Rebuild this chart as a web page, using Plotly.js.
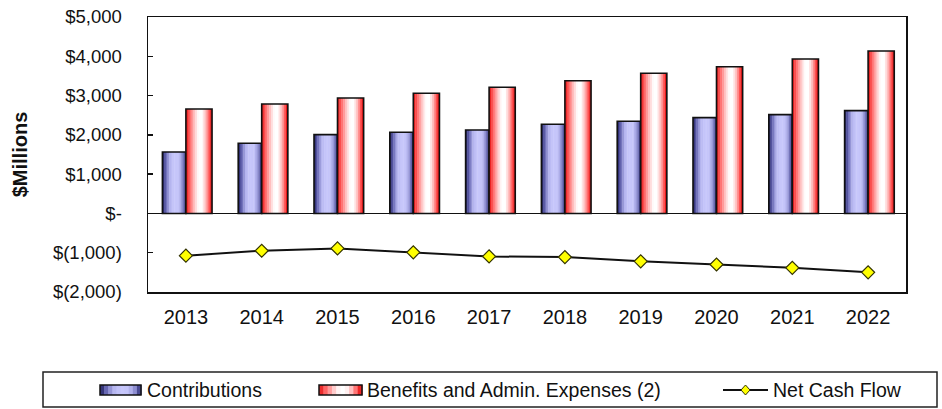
<!DOCTYPE html>
<html>
<head>
<meta charset="utf-8">
<script src="https://cdn.plot.ly/plotly-3.0.1.min.js"></script>
<style>
  html, body { margin: 0; padding: 0; background: #ffffff; }
  #chart { width: 942px; height: 409px; }
</style>
</head>
<body>
<div id="chart"></div>
<script>
// ---- data ----
const years = ['2013', '2014', '2015', '2016', '2017', '2018', '2019', '2020', '2021', '2022'];
const contributions = [1565, 1786, 2005, 2066, 2125, 2270, 2346, 2438, 2514, 2616];
const benefits = [2659, 2786, 2939, 3058, 3211, 3379, 3567, 3735, 3931, 4135];
const netCashFlow = [-1075, -950, -890, -990, -1095, -1112, -1220, -1300, -1385, -1500];
const yTickVals = [5000, 4000, 3000, 2000, 1000, 0, -1000, -2000];
const yTickText = ['$5,000', '$4,000', '$3,000', '$2,000', '$1,000', '$-', '$(1,000)', '$(2,000)'];
const seriesNames = ['Contributions', 'Benefits and Admin. Expenses (2)', 'Net Cash Flow'];

// ---- styles ----
const FONT = 'Liberation Sans, Arial, sans-serif';
const W = 942, H = 409;
const M = { l: 148, r: 36, t: 17, b: 117 };
const PW = W - M.l - M.r, PH = H - M.t - M.b;
const blueStops = [[0, '#1a1a58'], [0.12, '#5a5aa8'], [0.32, '#b4b4ee'], [0.5, '#c8c8fc'], [0.7, '#c2c2f8'], [0.86, '#8a8ace'], [1, '#262670']];
const redStops = [[0, '#e01010'], [0.13, '#ff5a5a'], [0.33, '#ffc4c4'], [0.48, '#ffffff'], [0.62, '#ffffff'], [0.78, '#ffb0b0'], [0.92, '#ff3a3a'], [1, '#d00000']];
const NSTRIP = 14;

function hex2rgb(h) { return [parseInt(h.substr(1, 2), 16), parseInt(h.substr(3, 2), 16), parseInt(h.substr(5, 2), 16)]; }
function grad(stops, t) {
  for (let i = 0; i < stops.length - 1; i++) {
    const [t0, c0] = stops[i], [t1, c1] = stops[i + 1];
    if (t >= t0 && t <= t1) {
      const f = (t - t0) / (t1 - t0), a = hex2rgb(c0), b = hex2rgb(c1);
      return 'rgb(' + a.map((v, k) => Math.round(v + (b[k] - v) * f)).join(',') + ')';
    }
  }
  return stops[stops.length - 1][1];
}

const traces = [];
function gradientBars(values, offset, width, stops) {
  const sw = width / NSTRIP;
  for (let i = 0; i < NSTRIP; i++) {
    traces.push({
      type: 'bar', x: years, y: values,
      offset: offset + i * sw, width: sw * (i < NSTRIP - 1 ? 1.25 : 1),
      marker: { color: grad(stops, (i + 0.5) / NSTRIP), line: { width: 0 } },
      showlegend: false, hoverinfo: 'skip'
    });
  }
  traces.push({
    type: 'bar', x: years, y: values, offset: offset, width: width,
    marker: { color: 'rgba(0,0,0,0)', line: { color: '#111111', width: 1.6 } },
    showlegend: false, hoverinfo: 'x+y'
  });
}
gradientBars(contributions, -0.31, 0.31, blueStops);
gradientBars(benefits, 0.0, 0.345, redStops);
traces.push({
  type: 'scatter', mode: 'lines+markers', x: years, y: netCashFlow, name: seriesNames[2],
  line: { color: '#111111', width: 2 },
  marker: { symbol: 'diamond', size: 10, color: '#ffff00', line: { color: '#333300', width: 1.2 } },
  showlegend: false, cliponaxis: false
});

// ---- custom legend (pixel -> paper helpers) ----
const px = x => (x - M.l) / PW;
const py = y => (M.t + PH - y) / PH;
const shapes = [];
const annotations = [];
shapes.push({ type: 'rect', xref: 'paper', yref: 'paper', x0: px(43), x1: px(937), y0: py(407), y1: py(372),
  line: { color: '#222222', width: 1.5 }, fillcolor: 'rgba(0,0,0,0)' });
function legendSwatch(x0, x1, y0, y1, stops) {
  const n = 10, sw = (x1 - x0) / n;
  for (let i = 0; i < n; i++) {
    shapes.push({ type: 'rect', xref: 'paper', yref: 'paper', x0: px(x0 + i * sw), x1: px(x0 + (i + 1) * sw + 0.6),
      y0: py(y1), y1: py(y0), line: { width: 0 }, fillcolor: grad(stops, (i + 0.5) / n) });
  }
  shapes.push({ type: 'rect', xref: 'paper', yref: 'paper', x0: px(x0), x1: px(x1), y0: py(y1), y1: py(y0),
    line: { color: '#111111', width: 1.5 }, fillcolor: 'rgba(0,0,0,0)' });
}
const LY = 390;
legendSwatch(100, 141, 385, 395, blueStops);
legendSwatch(319, 362, 385, 395, redStops);
shapes.push({ type: 'line', xref: 'paper', yref: 'paper', x0: px(723), x1: px(768), y0: py(LY), y1: py(LY),
  line: { color: '#111111', width: 2 } });
shapes.push({ type: 'path', xref: 'paper', yref: 'paper', xsizemode: 'pixel', ysizemode: 'pixel',
  xanchor: px(745.5), yanchor: py(LY), path: 'M0,-5 L4.5,0 L0,5 L-4.5,0 Z',
  fillcolor: '#ffff00', line: { color: '#333300', width: 1 } });
const legendTextX = [145, 365, 771];
seriesNames.forEach((name, i) => {
  annotations.push({ xref: 'paper', yref: 'paper', x: px(legendTextX[i]), y: py(LY), text: name,
    xanchor: 'left', yanchor: 'middle', showarrow: false, font: { family: FONT, size: 19.5, color: '#111111' } });
});

const layout = {
  width: W, height: H, margin: M,
  paper_bgcolor: '#ffffff', plot_bgcolor: '#ffffff',
  barmode: 'overlay', showlegend: false,
  font: { family: FONT, color: '#111111' },
  xaxis: {
    type: 'category', range: [-0.5, 9.5], showline: true, mirror: true, linecolor: '#111111', linewidth: 1.5,
    ticks: '', showgrid: false, zeroline: false, fixedrange: true,
    tickfont: { family: FONT, size: 20, color: '#111111' }, ticklabelstandoff: 6
  },
  yaxis: {
    range: [-2000, 5000], tickvals: yTickVals, ticktext: yTickText,
    ticks: 'inside', ticklen: 5, tickwidth: 1.5, tickcolor: '#111111',
    showline: true, mirror: true, linecolor: '#111111', linewidth: 1.5,
    showgrid: false, zeroline: true, zerolinecolor: '#111111', zerolinewidth: 1.5, fixedrange: true,
    tickfont: { family: FONT, size: 18.5, color: '#111111' }, ticklabelstandoff: 21,
    title: { text: '$Millions', font: { family: FONT, size: 20, weight: 'bold', color: '#111111' }, standoff: 20 }
  },
  shapes: shapes,
  annotations: annotations
};

Plotly.newPlot('chart', traces, layout, { displayModeBar: false, staticPlot: true });
</script>
</body>
</html>
